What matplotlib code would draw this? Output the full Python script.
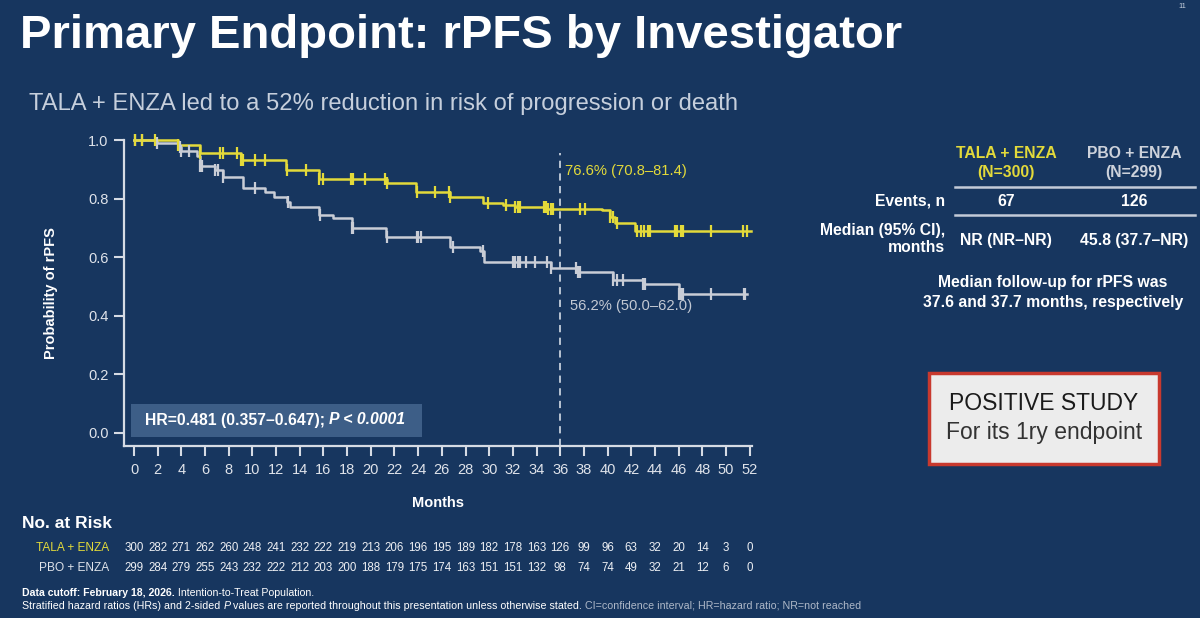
import numpy as np
import matplotlib
matplotlib.use("Agg")
import matplotlib.pyplot as plt
from matplotlib.patches import Rectangle

plt.rcParams['font.family'] = ['Liberation Sans', 'DejaVu Sans']

# ---------------- data ----------------
tala_times = [0, 3.7, 5.6, 9.0, 12.8, 15.6, 21.4, 23.8, 26.7, 29.5, 31.2, 32.2, 34.9, 39.5, 40.2, 40.6, 42.3]
tala_surv = [1.0, 0.983, 0.955, 0.932, 0.898, 0.868, 0.853, 0.823, 0.805, 0.785, 0.778, 0.771, 0.766, 0.760, 0.738, 0.716, 0.688]
tala_censor = [0.1, 0.7, 1.8, 3.7, 5.6, 7.3, 7.5, 8.7, 9.0, 9.2, 10.2, 11.1, 12.9, 14.5, 15.6, 16.0,
               18.3, 18.5, 19.5, 21.2, 21.4, 23.9, 25.4, 26.6, 26.7, 29.9, 31.4, 32.2, 32.4, 32.6,
               34.6, 34.8, 35.0, 35.2, 35.4, 37.7, 38.1, 40.2, 40.5, 40.8, 42.5, 42.8, 43.1, 43.4,
               43.6, 45.7, 45.9, 46.2, 46.4, 48.7, 51.4, 51.8]

pbo_times = [0, 1.9, 3.7, 4.0, 5.3, 5.6, 6.8, 7.5, 9.2, 11.1, 11.8, 12.9, 13.2, 15.6, 16.8, 18.4,
             21.3, 26.7, 29.2, 29.6, 35.2, 37.5, 40.5, 43.0, 46.0]
pbo_surv = [1.0, 0.99, 0.975, 0.962, 0.945, 0.91, 0.898, 0.874, 0.836, 0.823, 0.805, 0.788, 0.771,
            0.744, 0.734, 0.70, 0.669, 0.635, 0.62, 0.584, 0.562, 0.548, 0.522, 0.510, 0.475]
pbo_censor = [0.1, 0.7, 1.9, 3.9, 4.0, 4.6, 5.6, 5.7, 6.8, 7.1, 7.5, 10.2, 13.0, 15.7, 18.4, 18.5,
              21.4, 23.9, 24.0, 24.2, 26.9, 29.5, 32.0, 32.2, 32.4, 32.6, 33.1, 33.9, 34.9, 35.2,
              37.3, 37.5, 37.7, 40.5, 40.8, 41.3, 43.0, 43.2, 46.0, 46.2, 46.4, 48.7, 51.5, 51.6]

tala_end = 52.1
pbo_end = 51.8

x_ticks = list(range(0, 53, 2))
y_ticks = [0.0, 0.2, 0.4, 0.6, 0.8, 1.0]

risk_tala = [300, 282, 271, 262, 260, 248, 241, 232, 222, 219, 213, 206, 196, 195, 189, 182, 178,
             163, 126, 99, 96, 63, 32, 20, 14, 3, 0]
risk_pbo = [299, 284, 279, 255, 243, 232, 222, 212, 203, 200, 188, 179, 175, 174, 163, 151, 151,
            132, 98, 74, 74, 49, 32, 21, 12, 6, 0]

landmark_month = 36
tala_landmark = "76.6% (70.8\u201381.4)"
pbo_landmark = "56.2% (50.0\u201362.0)"

# ---------------- style ----------------
BG = '#17365f'
YEL = '#e3da3a'
GRY = '#c9cdd6'
AX = '#d6dbe4'
W = 'white'

W_PX, H_PX = 1200, 618
fig = plt.figure(figsize=(12, 6.18), dpi=100, facecolor=BG)


def P(x, y):
    return x / W_PX, 1 - y / H_PX


# axes: left spine x=124, right 752, top y=140 (1.0), bottom y=446
ax = fig.add_axes([124 / W_PX, 1 - 446 / H_PX, (752 - 124) / W_PX, (446 - 140) / H_PX])
ax.set_facecolor(BG)
ax.set_xlim(-0.85, 52.2)
ax.set_ylim(-0.0444, 1.0)
for s in ['top', 'right']:
    ax.spines[s].set_visible(False)
for s in ['left', 'bottom']:
    ax.spines[s].set_color(AX)
    ax.spines[s].set_linewidth(1.6)
ax.set_xticks(x_ticks)
ax.set_yticks(y_ticks)
ax.set_yticklabels([f"{v:.1f}" for v in y_ticks])
ax.tick_params(axis='both', colors=AX, width=1.5, length=7, labelsize=10.5, labelcolor='#dfe3ea')
ax.tick_params(axis='x', pad=5)
ax.tick_params(axis='y', pad=4)


def step_xy(times, surv, end):
    xs = list(times) + [end]
    ys = list(surv) + [surv[-1]]
    return xs, ys


def surv_at(times, surv, t):
    i = np.searchsorted(np.array(times), t, side='right') - 1
    return surv[max(i, 0)]


for times, surv, cens, end, col in [(pbo_times, pbo_surv, pbo_censor, pbo_end, GRY),
                                    (tala_times, tala_surv, tala_censor, tala_end, YEL)]:
    xs, ys = step_xy(times, surv, end)
    ax.step(xs, ys, where='post', color=col, lw=1.8, clip_on=False, zorder=3)
    cy = [surv_at(times, surv, t) for t in cens]
    ax.plot(cens, cy, linestyle='none', marker='|', markersize=9, mew=1.6, color=col,
            clip_on=False, zorder=4)

ax.plot([landmark_month, landmark_month], [-0.0444, 0.955], linestyle=(0, (4, 3)), color='#c6cfdc',
        lw=1.3, zorder=2, clip_on=False)
ax.text(landmark_month + 0.4, 0.895, tala_landmark, color=YEL, fontsize=10.6, va='center', ha='left')
ax.text(landmark_month + 0.85, 0.432, pbo_landmark, color='#c3c9d3', fontsize=10.6, va='center', ha='left')

ax.set_ylabel("Probability of rPFS", color=W, fontsize=10.5, fontweight='bold', labelpad=22)
ax.set_xlabel("Months", color=W, fontsize=10.5, fontweight='bold', labelpad=14)

# HR box
ax_hr_x0, ax_hr_y0 = P(131, 437)
ax_hr_x1, ax_hr_y1 = P(422, 404)
fig.patches.append(Rectangle((ax_hr_x0, ax_hr_y0), ax_hr_x1 - ax_hr_x0, ax_hr_y1 - ax_hr_y0,
                             transform=fig.transFigure, facecolor='#3d5e87', edgecolor='none', zorder=5))

renderer = fig.canvas.get_renderer()


def seq_text(x, y, parts, **kw):
    """Place text parts one after another in pixel coordinates."""
    cur = x
    for txt, props in parts:
        p = dict(kw)
        p.update(props)
        t = fig.text(*P(cur, y), txt, ha='left', va='center', **p)
        bb = t.get_window_extent(renderer=renderer)
        cur += bb.width
    return cur


seq_text(145, 420, [("HR=0.481 (0.357\u20130.647); ", dict(fontweight='bold')),
                    ("P < 0.0001", dict(fontweight='bold', style='italic'))],
         color=W, fontsize=11.3, zorder=6)

# Title and subtitle
fig.text(*P(20, 36), "Primary Endpoint: rPFS by Investigator", color=W, fontsize=34,
         fontweight='bold', ha='left', va='center')
fig.text(*P(29, 104), "TALA + ENZA led to a 52% reduction in risk of progression or death",
         color='#c6cfdc', fontsize=17.1, ha='left', va='center')
fig.text(*P(1182, 6), "11", color='#c6cfdc', fontsize=5.5, ha='center', va='center')

# Right table
TF = 11.3
c1, c2 = 1006, 1134
fig.text(*P(c1, 153), "TALA + ENZA", color=YEL, fontsize=TF, fontweight='bold', ha='center', va='center')
fig.text(*P(c1, 172), "(N=300)", color=YEL, fontsize=TF, fontweight='bold', ha='center', va='center')
fig.text(*P(c2, 153), "PBO + ENZA", color='#cdd2db', fontsize=TF, fontweight='bold', ha='center', va='center')
fig.text(*P(c2, 172), "(N=299)", color='#cdd2db', fontsize=TF, fontweight='bold', ha='center', va='center')
for yl in [187, 215]:
    fig.add_artist(plt.Line2D([955 / W_PX, 1195 / W_PX], [1 - yl / H_PX] * 2, color='#c3cbd8', lw=1.8,
                              transform=fig.transFigure))
fig.text(*P(945, 201), "Events, n", color=W, fontsize=TF, fontweight='bold', ha='right', va='center')
fig.text(*P(c1, 201), "67", color=W, fontsize=TF, fontweight='bold', ha='center', va='center')
fig.text(*P(c2, 201), "126", color=W, fontsize=TF, fontweight='bold', ha='center', va='center')
fig.text(*P(945, 230), "Median (95% CI),", color=W, fontsize=TF, fontweight='bold', ha='right', va='center')
fig.text(*P(945, 248), "months", color=W, fontsize=TF, fontweight='bold', ha='right', va='center')
fig.text(*P(c1, 240), "NR (NR\u2013NR)", color=W, fontsize=TF, fontweight='bold', ha='center', va='center')
fig.text(*P(c2, 240), "45.8 (37.7\u2013NR)", color=W, fontsize=TF, fontweight='bold', ha='center', va='center')
fig.text(*P(1053, 283), "Median follow-up for rPFS was", color=W, fontsize=TF, fontweight='bold',
         ha='center', va='center')
fig.text(*P(1053, 303), "37.6 and 37.7 months, respectively", color=W, fontsize=TF, fontweight='bold',
         ha='center', va='center')

# Positive study box
bx0, by0 = P(929, 464)
bx1, by1 = P(1159, 373)
fig.patches.append(Rectangle((bx0, by0), bx1 - bx0, by1 - by0, transform=fig.transFigure,
                             facecolor='#ececec', edgecolor='#c8392e', lw=2.5, zorder=5))
fig.text(*P(1044, 404), "POSITIVE STUDY", color='#1a1a1a', fontsize=16.5, ha='center', va='center',
         zorder=6)
fig.text(*P(1044, 433), "For its 1ry endpoint", color='#333333', fontsize=16.5, ha='center', va='center',
         zorder=6)

# Risk table
fig.text(*P(22, 523), "No. at Risk", color=W, fontsize=12.5, fontweight='bold', ha='left', va='center')
fig.text(*P(109, 548), "TALA + ENZA", color=YEL, fontsize=8.6, ha='right', va='center')
fig.text(*P(109, 568), "PBO + ENZA", color='#dfe3ea', fontsize=8.6, ha='right', va='center')
trans = matplotlib.transforms.blended_transform_factory(ax.transData, fig.transFigure)
for xt, a, b in zip(x_ticks, risk_tala, risk_pbo):
    fig.text(xt, 1 - 548 / H_PX, str(a), transform=trans, color='#eef0f4', fontsize=8.3, ha='center', va='center')
    fig.text(xt, 1 - 568 / H_PX, str(b), transform=trans, color='#eef0f4', fontsize=8.3, ha='center', va='center')

# Footnotes
seq_text(22, 593, [("Data cutoff: February 18, 2026.", dict(fontweight='bold')),
                   (" Intention-to-Treat Population.", dict())], color=W, fontsize=7.6)
seq_text(22, 606, [("Stratified hazard ratios (HRs) and 2-sided ", dict(color=W)),
                   ("P", dict(color=W, style='italic')),
                   (" values are reported throughout this presentation unless otherwise stated.", dict(color=W)),
                   (" CI=confidence interval; HR=hazard ratio; NR=not reached", dict(color='#aeb8c8'))],
         fontsize=7.7)

fig.savefig("out.png", dpi=100, facecolor=BG)
